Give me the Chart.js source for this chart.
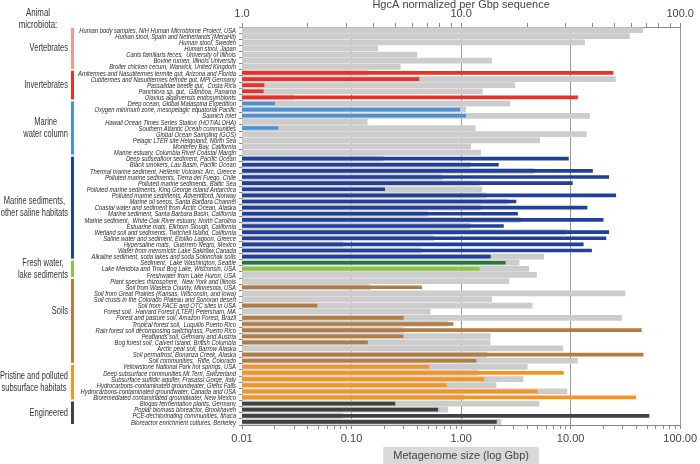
<!DOCTYPE html>
<html>
<head>
<meta charset="utf-8">
<script src="https://cdn.jsdelivr.net/npm/chart.js@4.4.0/dist/chart.umd.min.js"></script>
<style>
  html, body { margin: 0; padding: 0; background: #fff; }
  canvas { display: block; }
</style>
</head>
<body>
<canvas id="hgcaChart" width="700" height="464"></canvas>
<script>
const habitats = [
  'Human body samples, NIH Human Microbiome Project, USA',
  'Human stool, Spain and Netherlands (MetaHit)',
  'Human stool, Sweden',
  'Human stool, Japan',
  'Canis familiaris feces,  University of Illinois',
  'Bovine rumen, Illinois University',
  'Broiler chicken cecum, Warwick, United Kingdom',
  'Amitermes and Nasutitermes termite gut, Arizona and Florida',
  'Cubitermes and Nasutitermes termite gut, MPI Germany',
  'Passalidae beetle gut,  Costa Rica',
  'Panchlora sp. gut,  Gamboa, Panama',
  'Olavius algarvensis endosymbionts',
  'Deep ocean, Global Malaspina Expedition',
  'Oxygen minimum zone, mesopelagic equatorial Pacific',
  'Saanich Inlet',
  'Hawaii Ocean Times Series Station (HOT/ALOHA)',
  'Southern Atlantic Ocean communities',
  'Global Ocean Sampling (GOS)',
  'Pelagic LTER site Helgoland, North Sea',
  'Monterey Bay, California',
  'Marine estuary, Columbia River Coastal Margin',
  'Deep subseafloor sediment, Pacific Ocean',
  'Black smokers, Lau Basin, Pacific Ocean',
  'Thermal marine sediment, Hellenic Volcanic Arc, Greece',
  'Polluted marine sediments, Tierra del Fuego, Chile',
  'Polluted marine sediments, Baltic Sea',
  'Polluted marine sediments, King George Island Antarctica',
  'Polluted marine sediments, Adventfjord, Norway',
  'Marine oil seeps, Santa Barbara Channel',
  'Coastal water and sediment from Arctic Ocean, Alaska',
  'Marine sediment, Santa Barbara Basin, California',
  'Marine sediment,  White Oak River estuary, North Carolina',
  'Estuarine mats, Elkhorn Slough, California',
  'Wetland soil and sediments, Twitchell Island, California',
  'Saline water and sediment, Etoliko Lagoon, Greece',
  'Hypersaline mats,  Guerrero Negro, Mexico',
  'Water from meromictic Lake Sakinaw,Canada',
  'Alkaline sediment, soda lakes and soda Solonchak soils',
  'Sediment,  Lake Washington, Seattle',
  'Lake Mendota and Trout Bog Lake, Wisconsin, USA',
  'Freshwater from Lake Huron, USA',
  'Plant species rhizosphere,  New York and Illinois',
  'Soil from Waseca County, Minnesota, USA',
  'Soil from Great Prairies (Kansas, Wisconsin, and Iowa)',
  'Soil crusts in the Colorado Plateau and Sonoran desert',
  'Soil from FACE and OTC sites in USA',
  'Forest soil,  Harvard Forest (LTER) Petersham, MA',
  'Forest and pasture soil, Amazon Forest, Brazil',
  'Tropical forest soil,  Luquillo Puerto Rico',
  'Rain forest soil decomposing switchgrass, Puerto Rico',
  'Peatlands soil, Germany and Austria',
  'Bog forest soil, Calvert Island, British Columbia',
  'Arctic peat soil, Barrow Alaska',
  'Soil permafrost, Bonanza Creek, Alaska',
  'Soil communities,  Rifle, Colorado',
  'Yellowstone National Park hot springs, USA',
  'Deep subsurface communities,Mt.Terri, Switzerland',
  'Subsurface sulfidic aquifer, Frasassi Gorge, Italy',
  'Hydrocarbons-contaminated groundwater, Glens Falls',
  'Hydrocarbons-contaminated groundwater, Canada and USA',
  'Bioremediated contaminated groundwater, New Mexico',
  'Biogas fermentation plants, Germany',
  'Poplar biomass bioreactor, Brookhaven',
  'PCE-dechlorinating communities, Ithaca',
  'Bioreactor enrichment cultures, Berkeley'
];

// grey bars, bottom axis (Gbp)
const metagenomeSize = [
  45.8, 34.6, 13.5, 0.175, 0.398, 1.91, 0.281,
  0.143, 25.8, 3.12, 1.57, 0.0297,
  2.81, 1.11, 15.0, 0.14, 1.35, 14.0, 5.26, 1.23, 1.52,
  0.195, 1.22, 4.67, 0.68, 1.47, 1.56, 1.69, 2.71, 1.52, 0.498, 3.51, 1.22, 9.2, 0.565, 0.084, 0.433, 5.72,
  3.41, 4.18, 4.91,
  2.75, 0.15, 31.6, 1.91, 4.48, 0.526, 29.5, 0.756, 0.301, 1.85, 1.85, 8.58, 1.73, 11.6,
  4.04, 1.42, 3.71, 2.1, 9.33, 1.07,
  5.19, 0.762, 0.084, 2.33
];

// coloured bars, top axis (hgcA per Gbp)
const hgcaPerGbp = [
  null, null, null, null, null, null, null,
  49.4, 6.42, 1.26, 1.25, 34.0,
  1.41, 9.86, 10.5, null, 1.46, null, null, null, null,
  30.9, 14.8, 39.8, 47.2, 32.2, 4.48, 50.8, 17.8, 37.6, 18.1, 44.5, 15.6, 47.2, 45.8, 36.1, 39.4, 13.6,
  15.9, 12.1, null,
  null, 6.6, null, null, 2.2, null, 5.45, 9.2, 66.5, 5.43, 3.74, null, 67.7, 11.7,
  7.13, 29.3, 12.7, 8.55, 22.3, 62.6,
  4.99, 7.83, 72.1, 14.5
];

const groupNames = [
  'Vertebrates', 'Invertebrates', 'Marine\nwater column', 'Marine sediments,\nother saline habitats',
  'Fresh water,\nlake sediments', 'Soils', 'Pristine and polluted\nsubsurface habitats', 'Engineered'
];
const groupSizes = [7, 5, 9, 17, 3, 14, 6, 4];
const groupColors = ['#f4968c', '#ea3129', '#4a91d8', '#20409a', '#8cc63f', '#b27c44', '#f7941d', '#414141'];
// Lake Washington row uses a darker green than the group colour
const rowColorOverride = { 38: '#1f7a3b' };

const bottomTickLabels = [0.01, 0.1, 1, 10, 100];
const topTickLabels = [1, 10, 100];

const TEXT_FONT = '"Liberation Sans", Arial, sans-serif';

// colour of every coloured bar, taken from its group
const hgcaColors = [];
groupSizes.forEach((n, g) => {
  for (let k = 0; k < n; k++) hgcaColors.push(groupColors[g]);
});
Object.keys(rowColorOverride).forEach(i => { hgcaColors[i] = rowColorOverride[i]; });

function isDecade(value, list) {
  return list.some(v => Math.abs(Math.log10(value) - Math.log10(v)) < 1e-6);
}

function logTicks(decades) {
  const ticks = [];
  for (let i = 0; i < decades.length - 1; i++) {
    for (let m = 1; m < 10; m++) ticks.push({ value: Number((m * decades[i]).toPrecision(3)) });
  }
  ticks.push({ value: decades[decades.length - 1] });
  return ticks;
}

// no narrow font installed, so squeeze the text horizontally
function narrowText(ctx, text, x, y, squeeze) {
  ctx.save();
  ctx.translate(x, y);
  ctx.scale(squeeze, 1);
  ctx.fillText(text, 0, 0);
  ctx.restore();
}

const groupPlugin = {
  id: 'habitatGroups',
  afterDraw(chart) {
    const ctx = chart.ctx;
    const y = chart.scales.y;
    const area = chart.chartArea;
    const half = (y.getPixelForValue(1) - y.getPixelForValue(0)) / 2;

    ctx.save();
    ctx.textBaseline = 'middle';

    // habitat labels
    ctx.font = 'italic 7.6px ' + TEXT_FONT;
    ctx.fillStyle = '#2a2a2a';
    ctx.textAlign = 'right';
    const longest = ctx.measureText(habitats[7]).width;
    const rowSqueeze = 158 / longest;
    habitats.forEach((h, i) => narrowText(ctx, h, 236, y.getPixelForValue(i) + 0.5, rowSqueeze));

    // group bars and names
    ctx.font = '10px ' + TEXT_FONT;
    const groupSqueeze = 68 / ctx.measureText('Pristine and polluted').width;
    ctx.fillStyle = '#333';
    ctx.textAlign = 'center';
    let start = 0;
    groupSizes.forEach((n, g) => {
      const top = y.getPixelForValue(start) - half + 1;
      const bottom = y.getPixelForValue(start + n - 1) + half - 1;
      ctx.fillStyle = groupColors[g];
      ctx.fillRect(71, top, 3, bottom - top);

      const lines = groupNames[g].split('\n');
      ctx.fillStyle = '#333';
      const w = Math.max(...lines.map(l => ctx.measureText(l).width)) * groupSqueeze;
      const cx = 68 - w / 2;
      let cy = (top + bottom) / 2 - (lines.length - 1) * 6;
      if (g === 5) cy -= 10;
      lines.forEach((l, k) => narrowText(ctx, l, cx, cy + k * 12, groupSqueeze));
      start += n;
    });

    // header above the vertebrates
    ctx.font = '10.5px ' + TEXT_FONT;
    narrowText(ctx, 'Animal', 38, 13, groupSqueeze);
    narrowText(ctx, 'microbiota:', 38, 25, groupSqueeze);

    // axis titles
    const mid = (area.left + area.right) / 2;
    ctx.font = '11px ' + TEXT_FONT;
    ctx.fillStyle = '#444';
    ctx.fillText('HgcA normalized per Gbp sequence', mid, 5);

    const title = 'Metagenome size (log Gbp)';
    const tw = ctx.measureText(title).width + 20;
    ctx.fillStyle = '#d9d9d9';
    ctx.fillRect(mid - tw / 2, 447, tw, 17);
    ctx.fillStyle = '#444';
    ctx.fillText(title, mid, 456);
    ctx.restore();
  }
};

new Chart(document.getElementById('hgcaChart').getContext('2d'), {
  type: 'bar',
  data: {
    labels: habitats,
    datasets: [
      {
        label: 'HgcA normalized per Gbp sequence',
        data: hgcaPerGbp,
        xAxisID: 'x2',
        backgroundColor: hgcaColors,
        barThickness: 3,
        grouped: false
      },
      {
        label: 'Metagenome size (log Gbp)',
        data: metagenomeSize,
        xAxisID: 'x',
        backgroundColor: '#cccccc',
        categoryPercentage: 1,
        barPercentage: 0.94,
        grouped: false
      }
    ]
  },
  options: {
    indexAxis: 'y',
    responsive: false,
    animation: false,
    layout: { padding: { left: 0, right: 19, top: 0, bottom: 0 } },
    plugins: {
      legend: { display: false },
      tooltip: { enabled: false }
    },
    scales: {
      y: {
        type: 'category',
        afterFit: (scale) => { scale.width = 242; },
        grid: { drawOnChartArea: false, tickLength: 3, color: '#888' },
        border: { color: '#888' },
        ticks: { display: false, autoSkip: false }
      },
      x: {
        type: 'logarithmic',
        position: 'bottom',
        min: 0.01,
        max: 100,
        afterBuildTicks: (scale) => { scale.ticks = logTicks(bottomTickLabels); },
        afterFit: (scale) => { scale.height = 39; },
        grid: {
          color: (c) => (c.tick && isDecade(c.tick.value, bottomTickLabels) ? '#9a9a9a' : 'rgba(0,0,0,0)'),
          tickColor: '#888',
          tickLength: 4
        },
        border: { color: '#888' },
        ticks: {
          autoSkip: false,
          maxRotation: 0,
          padding: 3,
          color: '#444',
          font: { family: TEXT_FONT, size: 11 },
          callback: (v) => (isDecade(v, bottomTickLabels) ? v.toFixed(2) : '')
        }
      },
      x2: {
        type: 'logarithmic',
        position: 'top',
        min: 1,
        max: 100,
        afterBuildTicks: (scale) => { scale.ticks = logTicks(topTickLabels); },
        afterFit: (scale) => { scale.height = 27; },
        grid: { drawOnChartArea: false, tickColor: '#888', tickLength: 4 },
        border: { color: '#888' },
        ticks: {
          autoSkip: false,
          maxRotation: 0,
          padding: 2,
          color: '#444',
          font: { family: TEXT_FONT, size: 11 },
          callback: (v) => (isDecade(v, topTickLabels) ? v.toFixed(1) : '')
        }
      }
    }
  },
  plugins: [groupPlugin]
});
</script>
</body>
</html>
